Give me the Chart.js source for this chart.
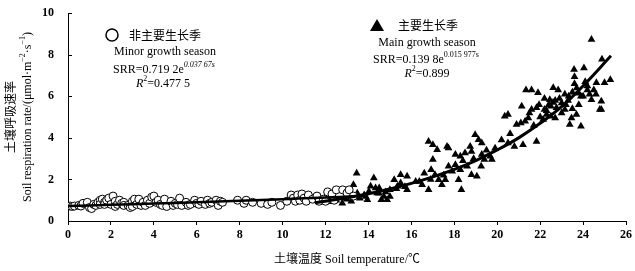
<!DOCTYPE html>
<html>
<head>
<meta charset="utf-8">
<script src="https://cdn.jsdelivr.net/npm/chart.js@4.4.1/dist/chart.umd.min.js"></script>
<style>
  body { margin: 0; background: #fff; }
  #chart { display: block; }
</style>
</head>
<body>
<canvas id="chart" width="635" height="271"></canvas>
<script>
// Minor growth season (open circles)
const minorT = [0.1, 0.2, 0.3, 0.5, 0.6, 0.7, 0.9, 1.0, 1.1, 1.2, 1.3, 1.4, 1.5, 1.5, 1.6, 1.7, 1.7, 1.8, 1.9,
  2.0, 2.1, 2.2, 2.2, 2.3, 2.4, 2.5, 2.6, 2.6, 2.8, 2.9, 3.0, 3.0, 3.1, 3.2, 3.3, 3.4, 3.5, 3.6, 3.7, 3.8, 3.9,
  4.0, 4.1, 4.2, 4.3, 4.4, 4.5, 4.6, 4.8, 4.9, 5.0, 5.1, 5.2, 5.3, 5.5, 5.6, 5.7, 5.9, 6.0, 6.1, 6.2, 6.4, 6.5,
  6.6, 6.7, 6.9, 7.0, 7.1, 7.2, 7.9, 8.2, 8.3, 8.6, 9.0, 9.3, 9.5, 9.9, 10.2, 10.4, 10.5, 10.6, 10.7, 10.8,
  10.9, 11.0, 11.1, 11.2, 11.4, 11.6, 11.7, 11.9, 12.0, 12.1, 12.3, 12.4, 12.5, 12.8, 13.0, 13.1, 13.3];
const minorV = [0.72, 0.7, 0.72, 0.75, 0.72, 0.85, 0.9, 0.65, 0.6, 0.8, 0.75, 0.9, 1.0, 0.8, 1.05, 0.9, 0.8, 1.0, 1.1,
  0.8, 1.2, 0.95, 0.7, 0.8, 1.0, 0.85, 0.9, 0.75, 0.75, 0.65, 0.95, 0.7, 1.05, 0.8, 1.05, 0.75, 0.9, 0.75, 1.0, 0.85, 1.15,
  1.2, 0.9, 1.0, 0.8, 0.75, 1.05, 0.7, 0.95, 0.75, 0.85, 0.8, 1.1, 0.75, 0.9, 0.75, 0.8, 1.0, 0.85, 0.8, 0.95, 0.8, 1.0,
  0.85, 0.9, 1.0, 0.75, 0.95, 0.9, 1.0, 0.85, 1.0, 0.9, 0.85, 0.8, 0.9, 0.75, 0.95, 1.25, 1.1, 0.95, 1.25, 1.0,
  1.3, 1.1, 0.95, 1.25, 1.05, 1.2, 0.95, 1.05, 0.95, 1.4, 1.3, 1.0, 1.5, 1.5, 1.35, 1.5, 1.2];

// Main growth season (filled triangles)
const mainT = [12.0, 12.16, 12.32, 12.4, 12.5, 12.78, 12.9, 13.0, 13.2, 13.3, 13.4, 13.45, 13.48, 13.6, 13.8, 13.87,
  13.95, 14.02, 14.1, 14.25, 14.33, 14.4, 14.49, 14.5, 14.6, 14.72, 14.8, 14.87, 15.0, 15.0, 15.2, 15.3, 15.35, 15.5,
  15.5, 15.7, 15.8, 15.8, 16.2, 16.37, 16.5, 16.6, 16.8, 16.8, 16.9, 16.92, 17.0, 17.0, 17.1, 17.2, 17.27, 17.42,
  17.5, 17.58, 17.66, 17.73, 17.73, 17.9, 18.05, 18.05, 18.2, 18.28, 18.28, 18.33, 18.4, 18.5, 18.6, 18.74, 18.8,
  18.8, 18.9, 18.97, 19.05, 19.13, 19.25, 19.28, 19.28, 19.4, 19.5, 19.67, 19.75, 19.9, 20.2, 20.35, 20.5, 20.5,
  20.6, 20.8, 20.9, 21.1, 21.14, 21.2, 21.3, 21.34, 21.45, 21.5, 21.6, 21.6, 21.7, 21.83, 21.83, 21.9, 21.95, 22.0,
  22.14, 22.2, 22.2, 22.3, 22.3, 22.4, 22.45, 22.5, 22.5, 22.6, 22.61, 22.7, 22.7, 22.76, 22.84, 22.9, 23.0, 23.0,
  23.15, 23.15, 23.2, 23.3, 23.33, 23.38, 23.46, 23.5, 23.5, 23.58, 23.6, 23.6, 23.69, 23.7, 23.8, 23.8, 23.9,
  23.9, 24.0, 24.04, 24.1, 24.2, 24.2, 24.3, 24.39, 24.39, 24.5, 24.6, 24.62, 24.78, 24.85, 24.85, 24.88, 25.0,
  25.27];
const mainV = [0.95, 1.02, 0.93, 1.05, 1.0, 0.85, 1.1, 1.05, 0.95, 1.75, 1.15, 2.3, 1.34, 1.1, 1.25, 1.18,
  1.02, 1.42, 1.67, 2.07, 1.59, 1.35, 1.34, 1.59, 1.02, 1.18, 1.4, 1.02, 1.18, 1.5, 1.99, 1.55, 1.67, 2.23,
  1.83, 1.65, 2.15, 1.5, 1.9, 1.9, 1.75, 2.3, 1.5, 3.83, 2.0, 2.47, 3.67, 2.96, 2.23, 3.43, 1.99, 1.75,
  2.2, 1.99, 3.59, 3.51, 2.63, 2.4, 3.2, 2.71, 1.99, 3.12, 2.47, 1.5, 2.9, 3.27, 2.63, 3.59, 3.35,
  2.23, 3.0, 4.15, 2.15, 3.91, 2.63, 3.75, 3.2, 2.96, 3.4, 3.12, 2.96, 3.5, 3.9, 5.04, 5.12, 3.75,
  4.2, 3.59, 4.64, 4.72, 5.52, 3.67, 4.8, 6.3, 4.96, 5.2, 6.3, 5.37, 4.6, 5.45, 3.83, 6.17, 5.6, 5.0,
  4.88, 5.37, 5.9, 5.12, 5.3, 5.6, 5.84, 5.52, 5.04, 5.7, 6.41, 4.96, 5.8, 5.45, 6.3, 5.9, 5.68, 5.2,
  6.1, 5.37, 5.6, 5.8, 6.0, 4.64, 4.96, 6.2, 5.4, 7.29, 6.94, 6.6, 5.12, 6.4, 6.15, 5.6, 6.0,
  4.56, 6.0, 7.36, 6.7, 6.3, 6.5, 6.1, 8.74, 5.84, 6.3, 6.1, 6.65, 5.37, 5.76, 5.37, 7.78, 6.65,
  6.8];

// Fitted curves
const minorFitT = [0, 2, 4, 6, 8, 10, 12, 13.3];
const minorFitV = [0.72, 0.78, 0.84, 0.9, 0.97, 1.05, 1.13, 1.19];
const mainFitT = [11.5, 13, 14, 15, 16, 17, 18, 19, 20, 21, 22, 23, 24, 25.3];
const mainFitV = [0.88, 1.12, 1.31, 1.54, 1.81, 2.12, 2.48, 2.91, 3.42, 4.0, 4.7, 5.5, 6.5, 7.95];

const SERIF = "'Liberation Serif', 'Times New Roman', serif";
const CJK = "'Noto Sans CJK SC', sans-serif";

const toXY = (xs, ys) => xs.map((x, i) => ({ x: x, y: ys[i] }));

/** draw a row of text pieces (with superscripts) centred on cx */
function drawRich(ctx, parts, cx, cy, size) {
  const fontOf = (p) =>
    `${p.italic ? "italic " : ""}${p.sup ? Math.round(size * 0.7) : size}px ${p.cjk ? CJK : SERIF}`;
  let total = 0;
  parts.forEach((p) => {
    ctx.font = fontOf(p);
    p.w = ctx.measureText(p.t).width;
    total += p.w;
  });
  let x = cx - total / 2;
  ctx.textAlign = "left";
  ctx.textBaseline = "middle";
  parts.forEach((p) => {
    ctx.font = fontOf(p);
    ctx.fillText(p.t, x, p.sup ? cy - size * 0.4 : cy);
    x += p.w;
  });
}

const extras = {
  id: "extras",
  afterDraw(chart) {
    const ctx = chart.ctx;
    const y = chart.scales.y;
    const area = chart.chartArea;
    ctx.save();
    ctx.fillStyle = "#000";
    ctx.strokeStyle = "#000";

    // inward ticks on the y axis
    ctx.lineWidth = 1;
    y.ticks.forEach((t) => {
      const py = Math.round(y.getPixelForValue(t.value)) + 0.5;
      ctx.beginPath();
      ctx.moveTo(area.left, py);
      ctx.lineTo(area.left + 4, py);
      ctx.stroke();
    });

    // y axis title, two lines
    ctx.save();
    ctx.translate(10, 117);
    ctx.rotate(-Math.PI / 2);
    drawRich(ctx, [{ t: "土壤呼吸速率", cjk: true }], 0, 0, 12);
    ctx.restore();
    ctx.save();
    ctx.translate(28, 117);
    ctx.rotate(-Math.PI / 2);
    drawRich(ctx, [
      { t: "Soil respiration rate/(μmol·m" },
      { t: "−2", sup: true },
      { t: "·s" },
      { t: "−1", sup: true },
      { t: ")" },
    ], 0, 0, 12);
    ctx.restore();

    // minor season note
    ctx.lineWidth = 1.5;
    ctx.beginPath();
    ctx.arc(112, 35, 6, 0, Math.PI * 2);
    ctx.stroke();
    drawRich(ctx, [{ t: "非主要生长季", cjk: true }], 165, 35, 12);
    drawRich(ctx, [{ t: "Minor growth season" }], 165, 52, 12);
    drawRich(ctx, [{ t: "SRR=0.719 2e" }, { t: "0.037 67s", sup: true, italic: true }], 164, 70, 12);
    drawRich(ctx, [{ t: "R", italic: true }, { t: "2", sup: true }, { t: "=0.477 5" }], 163, 84, 12);

    // main season note
    ctx.beginPath();
    ctx.moveTo(377, 19);
    ctx.lineTo(384, 31);
    ctx.lineTo(370, 31);
    ctx.closePath();
    ctx.fill();
    drawRich(ctx, [{ t: "主要生长季", cjk: true }], 428, 25, 12);
    drawRich(ctx, [{ t: "Main growth season" }], 427, 43, 12);
    drawRich(ctx, [{ t: "SRR=0.139 8e" }, { t: "0.015 977s", sup: true }], 426, 60, 12);
    drawRich(ctx, [{ t: "R", italic: true }, { t: "2", sup: true }, { t: "=0.899" }], 427, 74, 12);

    ctx.restore();
  },
};

new Chart(document.getElementById("chart"), {
  type: "scatter",
  data: {
    datasets: [
      {
        label: "minor fit",
        type: "line",
        data: toXY(minorFitT, minorFitV),
        borderColor: "#000",
        borderWidth: 2.5,
        pointRadius: 0,
        tension: 0.4,
        fill: false,
        order: 0,
      },
      {
        label: "main fit",
        type: "line",
        data: toXY(mainFitT, mainFitV),
        borderColor: "#000",
        borderWidth: 3,
        pointRadius: 0,
        tension: 0.4,
        fill: false,
        order: 0,
      },
      {
        label: "非主要生长季",
        data: toXY(minorT, minorV),
        pointStyle: "circle",
        pointRadius: 4,
        backgroundColor: "#fff",
        borderColor: "#000",
        borderWidth: 1,
        order: 1,
      },
      {
        label: "主要生长季",
        data: toXY(mainT, mainV),
        pointStyle: "triangle",
        pointRadius: 4.5,
        backgroundColor: "#000",
        borderColor: "#000",
        borderWidth: 0,
        order: 2,
      },
    ],
  },
  options: {
    responsive: false,
    animation: false,
    layout: { padding: { top: 13, right: 7, left: 0, bottom: 0 } },
    plugins: {
      legend: { display: false },
      tooltip: { enabled: false },
    },
    scales: {
      x: {
        type: "linear",
        min: 0,
        max: 26,
        afterFit: (scale) => { scale.height = 50; },
        ticks: {
          stepSize: 2,
          color: "#000",
          padding: 3,
          maxRotation: 0,
          font: { family: SERIF, size: 12, weight: "bold" },
        },
        grid: { drawOnChartArea: false, tickLength: 4, color: "#000" },
        border: { color: "#000", width: 1 },
        title: {
          display: true,
          text: "土壤温度 Soil temperature/℃",
          color: "#000",
          font: { family: SERIF + ", " + CJK, size: 12 },
          padding: { top: 4, bottom: 4 },
        },
      },
      y: {
        type: "linear",
        min: 0,
        max: 10,
        afterFit: (scale) => { scale.width = 68; },
        ticks: {
          stepSize: 2,
          color: "#000",
          padding: 6,
          font: { family: SERIF, size: 12, weight: "bold" },
        },
        grid: { display: false },
        border: { display: true, color: "#000", width: 1 },
      },
    },
  },
  plugins: [extras],
});
</script>
</body>
</html>
